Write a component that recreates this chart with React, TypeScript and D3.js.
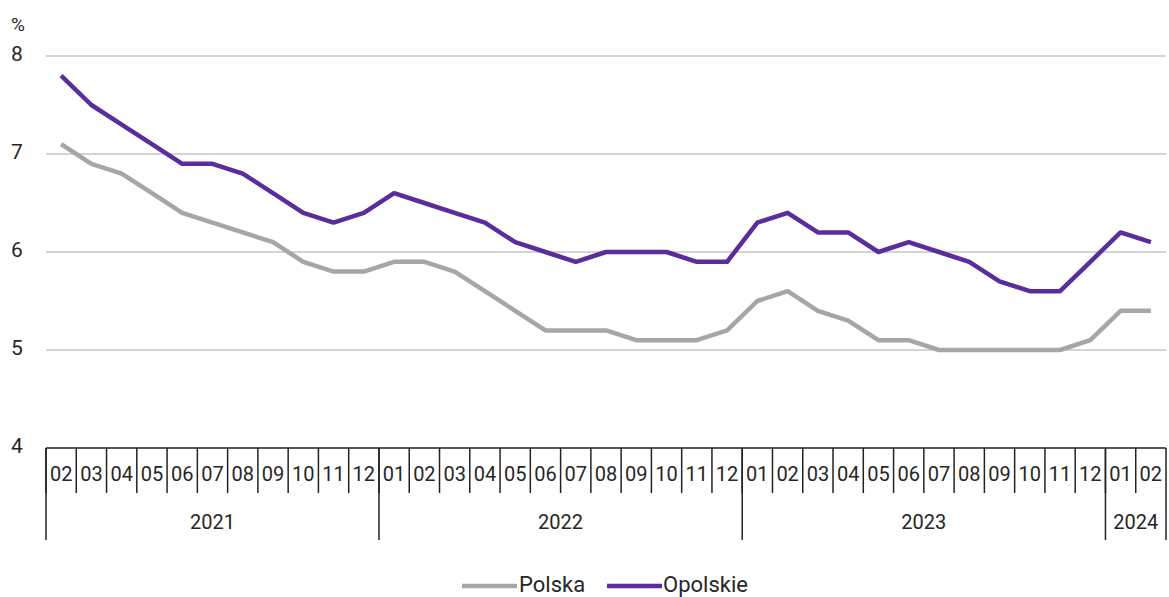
import React from "react";
import * as d3 from "d3";

const months = ["02","03","04","05","06","07","08","09","10","11","12",
  "01","02","03","04","05","06","07","08","09","10","11","12",
  "01","02","03","04","05","06","07","08","09","10","11","12",
  "01","02"];
const years = [
  { label: "2021", count: 11 },
  { label: "2022", count: 12 },
  { label: "2023", count: 12 },
  { label: "2024", count: 2 },
];
const polska = [7.1,6.9,6.8,6.6,6.4,6.3,6.2,6.1,5.9,5.8,5.8,
  5.9,5.9,5.8,5.6,5.4,5.2,5.2,5.2,5.1,5.1,5.1,5.2,
  5.5,5.6,5.4,5.3,5.1,5.1,5.0,5.0,5.0,5.0,5.0,5.1,
  5.4,5.4];
const opolskie = [7.8,7.5,7.3,7.1,6.9,6.9,6.8,6.6,6.4,6.3,6.4,
  6.6,6.5,6.4,6.3,6.1,6.0,5.9,6.0,6.0,6.0,5.9,5.9,
  6.3,6.4,6.2,6.2,6.0,6.1,6.0,5.9,5.7,5.6,5.6,5.9,
  6.2,6.1];
const yTicks = [4,5,6,7,8];

const W = 1169, H = 597;
const left = 46, right = 1166, top = 56, bottom = 448;
const FONT = "Roboto, 'Open Sans', sans-serif";
const TXT = "#262626";

export default function App() {
  const idx = months.map((_, i) => i);
  const x = d3.scaleBand<number>().domain(idx).range([left, right]).padding(0);
  const y = d3.scaleLinear().domain([4, 8]).range([bottom, top]);
  const cx = (i: number) => (x(i) as number) + x.bandwidth() / 2;
  const line = d3.line<number>().x((_, i) => cx(i)).y((d) => y(d));

  let acc = 0;
  const yearBounds = years.map((yr) => {
    const s = acc;
    acc += yr.count;
    return { ...yr, x0: x(s) as number, x1: s + yr.count >= months.length ? right : (x(s + yr.count) as number) };
  });

  return (
    <svg width={W} height={H} style={{ position: "absolute", left: 0, top: 0, fontFamily: FONT }}>
      <rect width={W} height={H} fill="#fff" />
      {yTicks.filter((t) => t > 4).map((t) => (
        <line key={t} x1={left} x2={right} y1={y(t)} y2={y(t)} stroke="#c6c6c6" strokeWidth={1.5} />
      ))}
      {yTicks.map((t) => (
        <text key={t} x={11} y={y(t) - 2} dy="0.35em" fontSize={21} fill={TXT}>{t}</text>
      ))}
      <text x={11} y={24} dy="0.35em" fontSize={19} fill={TXT}>%</text>

      <path d={line(polska) || ""} fill="none" stroke="#a6a6a6" strokeWidth={4.5} strokeLinejoin="round" />
      <path d={line(opolskie) || ""} fill="none" stroke="#5a2d9c" strokeWidth={4.5} strokeLinejoin="round" />

      <line x1={left} x2={right} y1={bottom} y2={bottom} stroke="#222" strokeWidth={1.5} />
      {idx.map((i) => (
        <line key={i} x1={x(i) as number} x2={x(i) as number} y1={bottom} y2={493} stroke="#222" strokeWidth={1.5} />
      ))}
      <line x1={right} x2={right} y1={bottom} y2={540} stroke="#222" strokeWidth={1.5} />
      {yearBounds.map((yb) => (
        <line key={yb.label} x1={yb.x0} x2={yb.x0} y1={bottom} y2={540} stroke="#222" strokeWidth={1.5} />
      ))}
      {months.map((m, i) => (
        <text key={i} x={cx(i)} y={474} dy="0.35em" textAnchor="middle" fontSize={20} fill={TXT}>{m}</text>
      ))}
      {yearBounds.map((yb) => (
        <text key={yb.label} x={(yb.x0 + yb.x1) / 2} y={522} dy="0.35em" textAnchor="middle" fontSize={20} fill={TXT}>{yb.label}</text>
      ))}

      <line x1={462} x2={517} y1={586} y2={586} stroke="#a6a6a6" strokeWidth={4.5} />
      <text x={519} y={584} dy="0.35em" fontSize={22} fill={TXT}>Polska</text>
      <line x1={607} x2={662} y1={586} y2={586} stroke="#5a2d9c" strokeWidth={4.5} />
      <text x={663} y={584} dy="0.35em" fontSize={22} fill={TXT}>Opolskie</text>
    </svg>
  );
}
